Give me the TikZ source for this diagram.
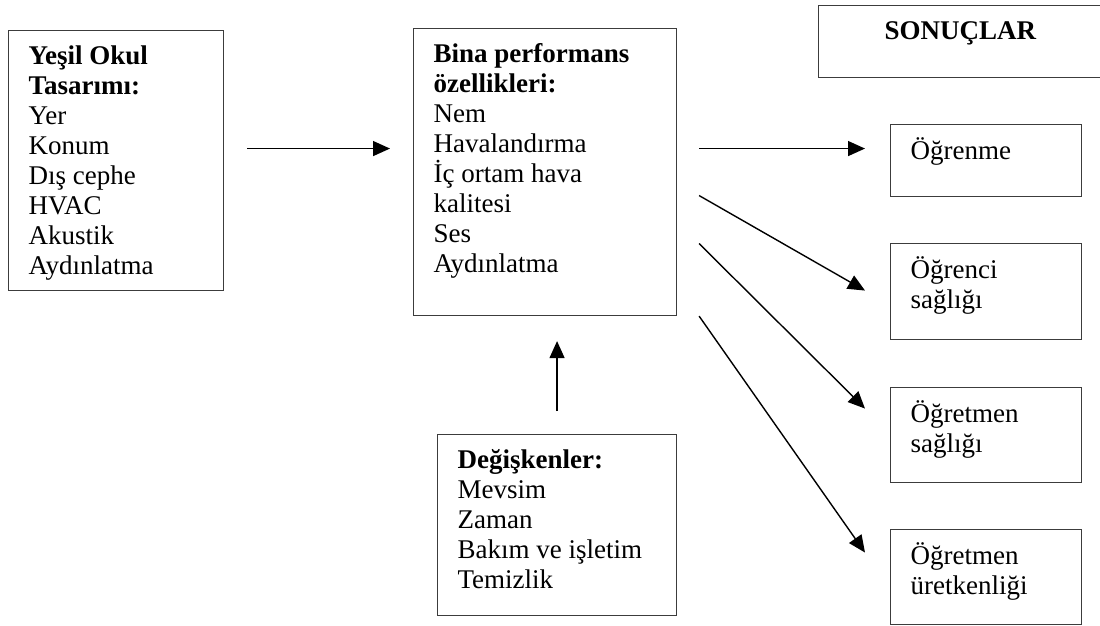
\documentclass[tikz,border=0pt]{standalone}
\usepackage{fontspec}
\setmainfont{Liberation Serif}
\usepackage{tikz}
\usetikzlibrary{arrows.meta,positioning}
\usepackage{xcolor}
\definecolor{kenargri}{RGB}{60,60,60}
\newcommand{\kutuyazi}[3]{\parbox[c][#2][t]{#1}{\raggedright\strut #3}}
\newcommand{\ortayazi}[3]{\parbox[c][#2][t]{#1}{\centering\strut #3}}

\tikzset{
    kutu/.style={draw=kenargri, line width=1.1pt, inner xsep=20pt, inner ysep=13pt,
        anchor=north west, font=\fontsize{27}{30}\selectfont},
    ok/.style={-{Triangle[length=17pt,width=15pt]}, line width=1.4pt},
}

\begin{document}
\begin{tikzpicture}[x=1pt,y=-1pt]
    \useasboundingbox (0,0) rectangle (1100,626);

    % --- Left: design ---
    \node[kutu] (yesil) at (8,30) {\kutuyazi{175pt}{234pt}{\textbf{Yeşil Okul}\\\textbf{Tasarımı:}\\Yer\\Konum\\Dış cephe\\HVAC\\Akustik\\Aydınlatma}};

    % --- Middle: performance and variables ---
    \node[kutu] (bina) at (413,28) {\kutuyazi{223pt}{261pt}{\textbf{Bina performans}\\\textbf{özellikleri:}\\Nem\\Havalandırma\\İç ortam hava\\kalitesi\\Ses\\Aydınlatma}};
    \node[kutu] (degisken) at (437,434) {\kutuyazi{199pt}{155pt}{\textbf{Değişkenler:}\\Mevsim\\Zaman\\Bakım ve işletim\\Temizlik}};

    % --- Right: results ---
    \node[kutu] (sonuc) at (818,5) {\ortayazi{244pt}{46pt}{\textbf{SONUÇLAR}}};
    \node[kutu] (ogrenme) at (890,124) {\kutuyazi{151pt}{46pt}{Öğrenme}};
    \node[kutu] (ogrenci) at (890,243) {\kutuyazi{151pt}{70pt}{Öğrenci\\sağlığı}};
    \node[kutu] (saglik) at (890,387) {\kutuyazi{151pt}{69pt}{Öğretmen\\sağlığı}};
    \node[kutu] (uretken) at (890,529) {\kutuyazi{151pt}{69pt}{Öğretmen\\üretkenliği}};

    % --- Arrows ---
    \draw[ok] ([xshift=23pt,yshift=12pt]yesil.east) -- ([xshift=-23pt,yshift=23.5pt]bina.west);
    \draw[ok] ([yshift=23pt]degisken.north) -- ([xshift=12pt,yshift=-25pt]bina.south);
    \draw[ok] ([xshift=22pt,yshift=23.5pt]bina.east) -- ([xshift=-25pt,yshift=12pt]ogrenme.west);
    \draw[ok] ([xshift=22pt,yshift=-23.5pt]bina.east) -- ([xshift=-25pt,yshift=1pt]ogrenci.west);
    \draw[ok] ([xshift=22pt,yshift=-71.5pt]bina.east) -- ([xshift=-25pt,yshift=26.5pt]saglik.west);
    \draw[ok] ([xshift=22pt]bina.south east) -- ([xshift=-25pt,yshift=24.5pt]uretken.west);
\end{tikzpicture}
\end{document}
